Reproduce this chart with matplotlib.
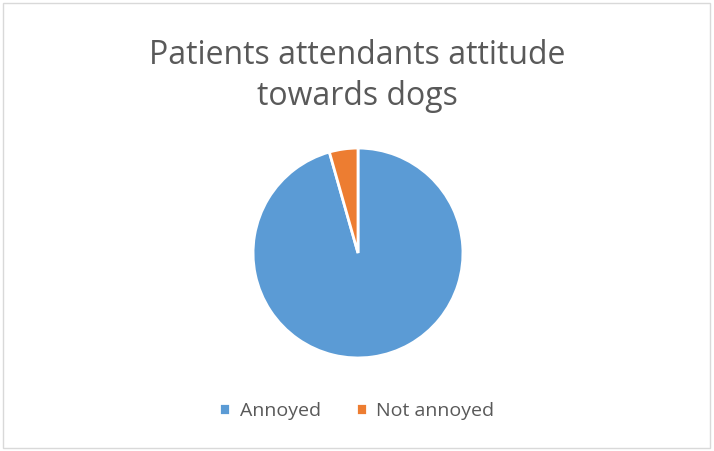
import matplotlib
matplotlib.use("Agg")
import matplotlib.pyplot as plt
from matplotlib.patches import Rectangle

# data
labels = ["Annoyed", "Not annoyed"]
values = [95.6, 4.4]
colors = ["#5b9bd5", "#ed7d31"]
title = "Patients attendants attitude\ntowards dogs"

plt.rcParams["font.family"] = ["Open Sans", "DejaVu Sans"]

fig = plt.figure(figsize=(7.14, 4.51), dpi=100)

# chart border
fig.patches.append(Rectangle((3 / 714, 3 / 451), 707 / 714, 445 / 451, transform=fig.transFigure,
                             fill=False, edgecolor="#d9d9d9", linewidth=1))

fig.text(0.5, 1 - 76 / 451, title, ha="center", va="center", fontsize=23, color="#595959",
         linespacing=1.3)

ax = fig.add_axes([(358 - 106) / 714, (451 - 359) / 451, 212 / 714, 212 / 451])
wedges, _ = ax.pie(values, colors=colors, startangle=90, counterclock=False,
                   wedgeprops=dict(edgecolor="white", linewidth=2))
ax.set_xlim(-1.01, 1.01)
ax.set_ylim(-1.01, 1.01)
ax.set_aspect("equal")

fig.legend(wedges, labels, loc="center", bbox_to_anchor=(0.5, 1 - 411 / 451), ncol=2,
           frameon=False, fontsize=14, labelcolor="#595959", handlelength=0.55, handleheight=0.55,
           handletextpad=0.5, columnspacing=1.8)

fig.savefig("out.png", dpi=100)
